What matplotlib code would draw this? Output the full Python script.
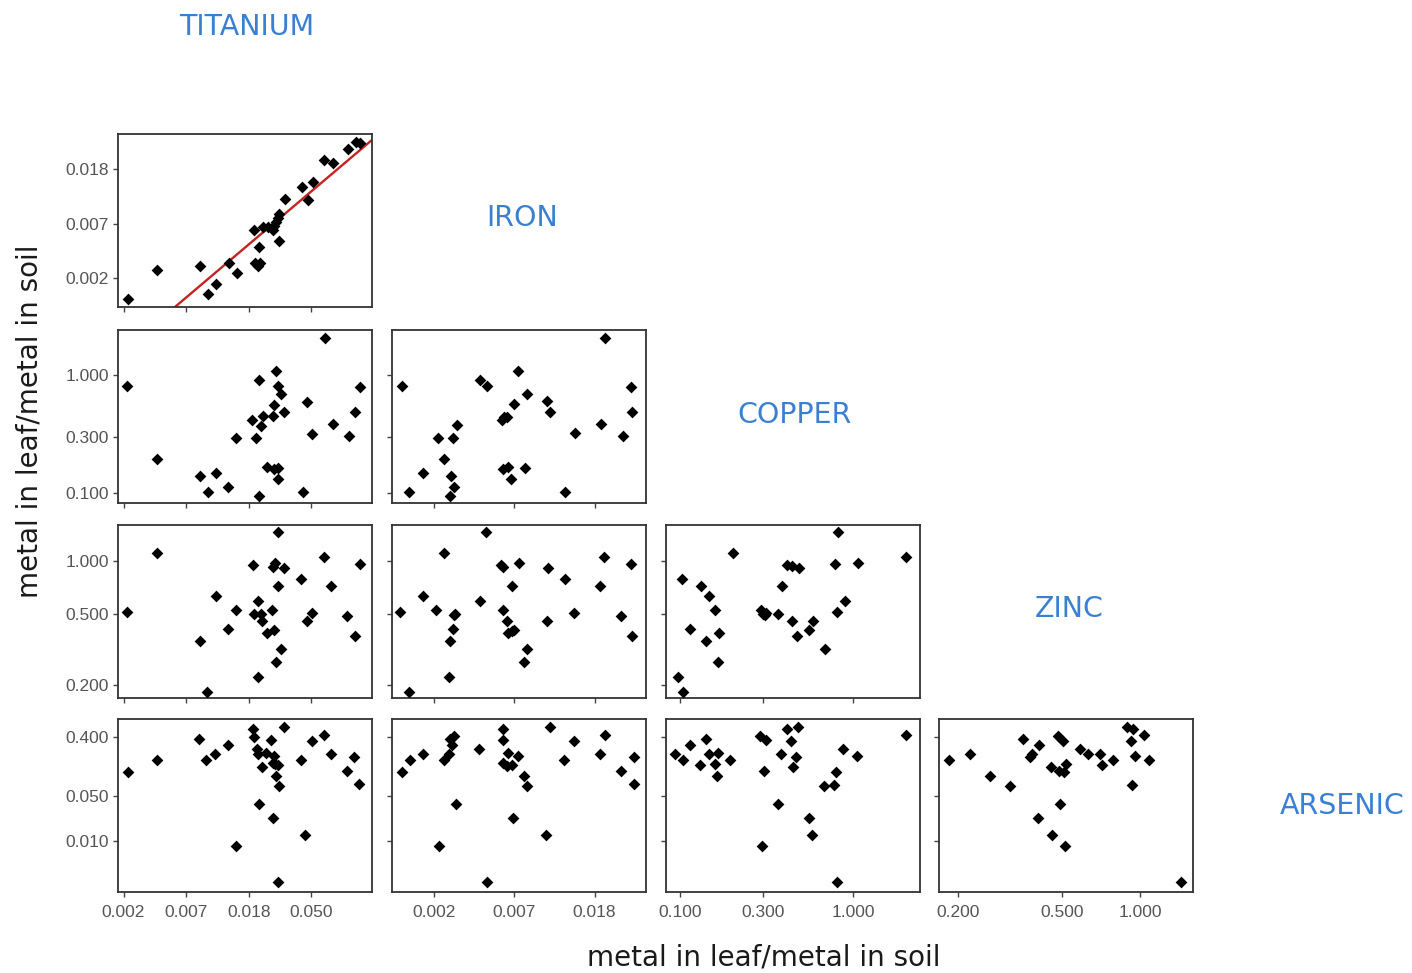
import numpy as np
import matplotlib
matplotlib.use('Agg')
from matplotlib import pyplot as plt
from matplotlib.ticker import NullLocator

# names on the diagonal
metals = ['TITANIUM', 'IRON', 'COPPER', 'ZINC', 'ARSENIC']

# ratios metal in leaf / metal in soil, read panel by panel (x = column metal, y = row metal)
fe_ti_x = [0.00266, 0.00422, 0.00842, 0.00953, 0.01088, 0.01346, 0.01513, 0.01984, 0.02026, 0.02116,
           0.02195, 0.02171, 0.02290, 0.02481, 0.02688, 0.02761, 0.02834, 0.02911, 0.02988, 0.02957,
           0.03289, 0.04267, 0.04694, 0.05085, 0.06125, 0.06994, 0.08962, 0.1015, 0.1083]
fe_ti_y = [0.00170, 0.00289, 0.00311, 0.00188, 0.00222, 0.00327, 0.00272, 0.00595, 0.00327, 0.00313,
           0.00331, 0.00443, 0.00632, 0.00632, 0.00602, 0.00648, 0.00701, 0.00745, 0.00802, 0.00495,
           0.01063, 0.01317, 0.01031, 0.01453, 0.02148, 0.02045, 0.02644, 0.03005, 0.02952]

cu_ti_x = [0.00263, 0.00423, 0.00839, 0.00959, 0.01084, 0.01308, 0.01486, 0.01932, 0.02050, 0.02173,
           0.02173, 0.02222, 0.02317, 0.02446, 0.02679, 0.02750, 0.02750, 0.02827, 0.02902, 0.02935,
           0.02935, 0.03059, 0.03228, 0.04332, 0.04670, 0.05034, 0.06234, 0.07010, 0.09087, 0.1008, 0.1083]
cu_ti_y = [0.820, 0.196, 0.140, 0.1026, 0.1476, 0.1133, 0.295, 0.419, 0.297, 0.906,
           0.0948, 0.374, 0.453, 0.1683, 0.453, 0.563, 0.1608, 1.089, 0.820, 0.1652,
           0.1318, 0.695, 0.4875, 0.1033, 0.598, 0.321, 2.080, 0.387, 0.305, 0.4875, 0.799]

cu_fe_x = [0.001657, 0.001822, 0.002170, 0.002617, 0.002809, 0.003013, 0.003077, 0.003155, 0.003168, 0.003289,
           0.004401, 0.004783, 0.005766, 0.005888, 0.005935, 0.006134, 0.006264, 0.006448, 0.006751, 0.007069,
           0.007680, 0.007938, 0.01010, 0.01050, 0.01271, 0.01428, 0.01982, 0.02076, 0.02607, 0.02880, 0.02918]
cu_fe_y = [0.820, 0.1026, 0.1476, 0.297, 0.196, 0.0948, 0.140, 0.297, 0.114, 0.377,
           0.912, 0.820, 0.419, 0.159, 0.441, 0.447, 0.1683, 0.1318, 0.567, 1.089,
           0.164, 0.700, 0.6015, 0.4875, 0.1026, 0.3214, 0.3866, 2.080, 0.305, 0.799, 0.4875]

zn_ti_x = [0.00263, 0.00423, 0.00839, 0.00944, 0.01084, 0.01308, 0.01486, 0.01953, 0.01997, 0.02116,
           0.02116, 0.02222, 0.02281, 0.02446, 0.02649, 0.02679, 0.02750, 0.02794, 0.02827, 0.02902,
           0.02902, 0.03059, 0.03228, 0.04242, 0.04643, 0.05034, 0.06070, 0.06830, 0.08868, 0.1008, 0.1083]
zn_ti_y = [0.516, 1.101, 0.353, 0.183, 0.637, 0.415, 0.528, 0.945, 0.501, 0.594,
           0.223, 0.501, 0.459, 0.394, 0.528, 0.924, 0.408, 0.974, 0.269, 1.451,
           0.717, 0.319, 0.912, 0.793, 0.459, 0.507, 1.054, 0.717, 0.490, 0.378, 0.957]

zn_fe_x = [0.001626, 0.001827, 0.002151, 0.002553, 0.002798, 0.002992, 0.003028, 0.003133, 0.003171, 0.003238,
           0.004375, 0.004754, 0.005690, 0.005858, 0.005858, 0.006132, 0.006239, 0.006532, 0.006585, 0.006751,
           0.007126, 0.007620, 0.007883, 0.01008, 0.01030, 0.01269, 0.01425, 0.01967, 0.02059, 0.02557,
           0.02873, 0.02911]
zn_fe_y = [0.516, 0.183, 0.637, 0.528, 1.101, 0.223, 0.353, 0.415, 0.497, 0.501,
           0.594, 1.451, 0.945, 0.924, 0.528, 0.459, 0.394, 0.717, 0.402, 0.406,
           0.978, 0.269, 0.319, 0.459, 0.912, 0.793, 0.507, 0.717, 1.054, 0.490,
           0.957, 0.378]

zn_cu_x = [0.0965, 0.1027, 0.1031, 0.1142, 0.1316, 0.1406, 0.1457, 0.1592, 0.1649, 0.1679,
           0.2004, 0.2919, 0.3011, 0.3093, 0.3148, 0.3676, 0.3859, 0.4125, 0.4446, 0.4446,
           0.4753, 0.4858, 0.5572, 0.5853, 0.6863, 0.7805, 0.8014, 0.8190, 0.8913, 1.064, 2.004]
zn_cu_y = [0.223, 0.793, 0.183, 0.415, 0.717, 0.353, 0.637, 0.528, 0.269, 0.394,
           1.101, 0.528, 0.501, 0.494, 0.507, 0.501, 0.717, 0.945, 0.936, 0.459,
           0.377, 0.912, 0.406, 0.459, 0.319, 0.957, 0.516, 1.451, 0.594, 0.978, 1.054]

as_ti_x = [0.00266, 0.00423, 0.00825, 0.00933, 0.01067, 0.01308, 0.01486, 0.01953, 0.01997, 0.02105,
           0.02116, 0.02173, 0.02259, 0.02407, 0.02620, 0.02679, 0.02679, 0.02750, 0.02794, 0.02902,
           0.02827, 0.02918, 0.02995, 0.03228, 0.04242, 0.04474, 0.05034, 0.06070, 0.06830, 0.08813,
           0.0992, 0.1060]
as_ti_y = [0.1143, 0.1776, 0.369, 0.1776, 0.2163, 0.306, 0.0085, 0.535, 0.400, 0.2606,
           0.2163, 0.0371, 0.141, 0.2239, 0.3565, 0.02254, 0.1581, 0.2042, 0.1528, 0.1493,
           0.0994, 0.002344, 0.0718, 0.566, 0.1776, 0.01233, 0.348, 0.4236, 0.2163, 0.1183,
           0.195, 0.0753]

as_fe_x = [0.001661, 0.001837, 0.002160, 0.002627, 0.002798, 0.002990, 0.003017, 0.003104, 0.003183, 0.003250,
           0.004351, 0.004767, 0.005873, 0.005873, 0.005873, 0.006121, 0.006251, 0.006519, 0.006654, 0.007083,
           0.007607, 0.007860, 0.01001, 0.01044, 0.01254, 0.01410, 0.01967, 0.02076, 0.02556, 0.02984, 0.02984]
as_fe_y = [0.1143, 0.1776, 0.2163, 0.0085, 0.1776, 0.2163, 0.369, 0.306, 0.409, 0.0371,
           0.2606, 0.002344, 0.535, 0.3565, 0.1581, 0.1459, 0.2239, 0.1493, 0.02254, 0.2042,
           0.0994, 0.0718, 0.01233, 0.566, 0.1776, 0.348, 0.2163, 0.4236, 0.1183, 0.195, 0.0753]

as_cu_x = [0.0936, 0.1031, 0.1142, 0.1305, 0.1407, 0.1458, 0.1594, 0.1629, 0.1650, 0.1945,
           0.2900, 0.2965, 0.3032, 0.3141, 0.3668, 0.3819, 0.4137, 0.4382, 0.4457, 0.4662,
           0.4765, 0.5517, 0.5794, 0.6737, 0.7696, 0.7940, 0.8045, 0.8713, 1.050, 2.024]
as_cu_y = [0.2163, 0.1776, 0.306, 0.1493, 0.369, 0.2163, 0.1545, 0.0994, 0.2239, 0.1776,
           0.409, 0.0085, 0.1183, 0.3565, 0.0371, 0.2163, 0.535, 0.348, 0.141, 0.195,
           0.566, 0.02254, 0.01233, 0.0718, 0.0744, 0.1143, 0.002344, 0.2606, 0.2042, 0.4236]

as_zn_x = [0.1847, 0.2218, 0.2655, 0.3158, 0.3532, 0.3770, 0.3837, 0.4034, 0.4093, 0.4540,
           0.4566, 0.4842, 0.4887, 0.4932, 0.5035, 0.5105, 0.5152, 0.5183, 0.5861, 0.6310,
           0.6998, 0.7129, 0.7834, 0.8892, 0.9354, 0.9162, 0.9290, 0.9541, 1.036, 1.076, 1.425]
as_zn_y = [0.1776, 0.2163, 0.0994, 0.0718, 0.369, 0.195, 0.2163, 0.02254, 0.306, 0.141,
           0.01233, 0.409, 0.1183, 0.0371, 0.348, 0.1143, 0.0085, 0.1545, 0.2606, 0.2163,
           0.2163, 0.1493, 0.1776, 0.566, 0.535, 0.348, 0.0744, 0.2042, 0.4236, 0.1776, 0.002344]

# red line in the titanium/iron panel: ln(Fe) = slope * ln(Ti) + intercept
ti_fe_slope = 0.97
ti_fe_intercept = -1.50

# axis ranges, ticks and tick labels of each metal
ti_lim = (0.00227, 0.1313)
ti_ticks = [0.00248, 0.00674, 0.0183, 0.0498]
ti_labels = ['0.002', '0.007', '0.018', '0.050']
fe_lim = (0.00147, 0.0347)
fe_ticks = [0.00248, 0.00674, 0.0183]
fe_labels = ['0.002', '0.007', '0.018']
cu_lim = (0.0826, 2.43)
cu_ticks = [0.1, 0.3, 1.0]
cu_labels = ['0.100', '0.300', '1.000']
zn_lim = (0.169, 1.59)
zn_ticks = [0.2, 0.5, 1.0]
zn_labels = ['0.200', '0.500', '1.000']
as_lim = (0.00166, 0.759)
as_ticks = [0.01, 0.05, 0.4]
as_labels = ['0.010', '0.050', '0.400']

scales = {
    'ti': (ti_lim, ti_ticks, ti_labels),
    'fe': (fe_lim, fe_ticks, fe_labels),
    'cu': (cu_lim, cu_ticks, cu_labels),
    'zn': (zn_lim, zn_ticks, zn_labels),
    'as': (as_lim, as_ticks, as_labels),
}

# row, column, x data, y data, x metal, y metal
panels = [
    (0, 0, fe_ti_x, fe_ti_y, 'ti', 'fe'),
    (1, 0, cu_ti_x, cu_ti_y, 'ti', 'cu'),
    (1, 1, cu_fe_x, cu_fe_y, 'fe', 'cu'),
    (2, 0, zn_ti_x, zn_ti_y, 'ti', 'zn'),
    (2, 1, zn_fe_x, zn_fe_y, 'fe', 'zn'),
    (2, 2, zn_cu_x, zn_cu_y, 'cu', 'zn'),
    (3, 0, as_ti_x, as_ti_y, 'ti', 'as'),
    (3, 1, as_fe_x, as_fe_y, 'fe', 'as'),
    (3, 2, as_cu_x, as_cu_y, 'cu', 'as'),
    (3, 3, as_zn_x, as_zn_y, 'zn', 'as'),
]

W, H = 1412, 973
col_left = [118, 392, 666, 939]
row_top = [134, 330, 525, 719]
pw, ph = 254, 173

fig = plt.figure(figsize=(W / 100, H / 100), dpi=100)
fig.patch.set_facecolor('white')

tick_font = {'family': 'Liberation Sans', 'size': 12.5, 'color': '#555555'}

for row, col, xs, ys, xm, ym in panels:
    ax = fig.add_axes([col_left[col] / W, 1 - (row_top[row] + ph) / H, pw / W, ph / H])
    ax.scatter(xs, ys, marker='D', s=36, c='black', linewidths=0, zorder=3)
    ax.set_xscale('log')
    ax.set_yscale('log')
    xlim, xt, xl = scales[xm]
    ylim, yt, yl = scales[ym]
    ax.set_xlim(xlim)
    ax.set_ylim(ylim)
    ax.set_xticks(xt)
    ax.set_yticks(yt)
    ax.xaxis.set_minor_locator(NullLocator())
    ax.yaxis.set_minor_locator(NullLocator())
    if row == 3:
        ax.set_xticklabels(xl, fontdict=tick_font)
    else:
        ax.set_xticklabels([])
    if col == 0:
        ax.set_yticklabels(yl, fontdict=tick_font)
    else:
        ax.set_yticklabels([])
    ax.tick_params(axis='x', length=3.5, width=1, color='#444444', pad=6)
    ax.tick_params(axis='y', length=3.5, width=1, color='#444444', pad=3)
    for sp in ax.spines.values():
        sp.set_color('#333333')
        sp.set_linewidth(1.3)
    if (row, col) == (0, 0):
        lx = np.array(xlim)
        ly = np.exp(ti_fe_intercept) * lx ** ti_fe_slope
        ax.plot(lx, ly, color='#c8211f', lw=1.7, zorder=2)

# metal names on the diagonal
label_pos = [(247, 27), (522, 218), (795, 415), (1069, 609), (1342, 806)]
for name, (px, py) in zip(metals, label_pos):
    fig.text(px / W, 1 - py / H, name, ha='center', va='center',
             fontsize=20.5, color='#3a80d2', family='DejaVu Sans')

fig.text(764 / W, 1 - 958 / H, 'metal in leaf/metal in soil', ha='center', va='center',
         fontsize=20, color='#1a1a1a', family='DejaVu Sans')
fig.text(30 / W, 1 - 421 / H, 'metal in leaf/metal in soil', ha='center', va='center',
         rotation=90, fontsize=20, color='#1a1a1a', family='DejaVu Sans')

fig.savefig('out.png', dpi=100, facecolor='white')
